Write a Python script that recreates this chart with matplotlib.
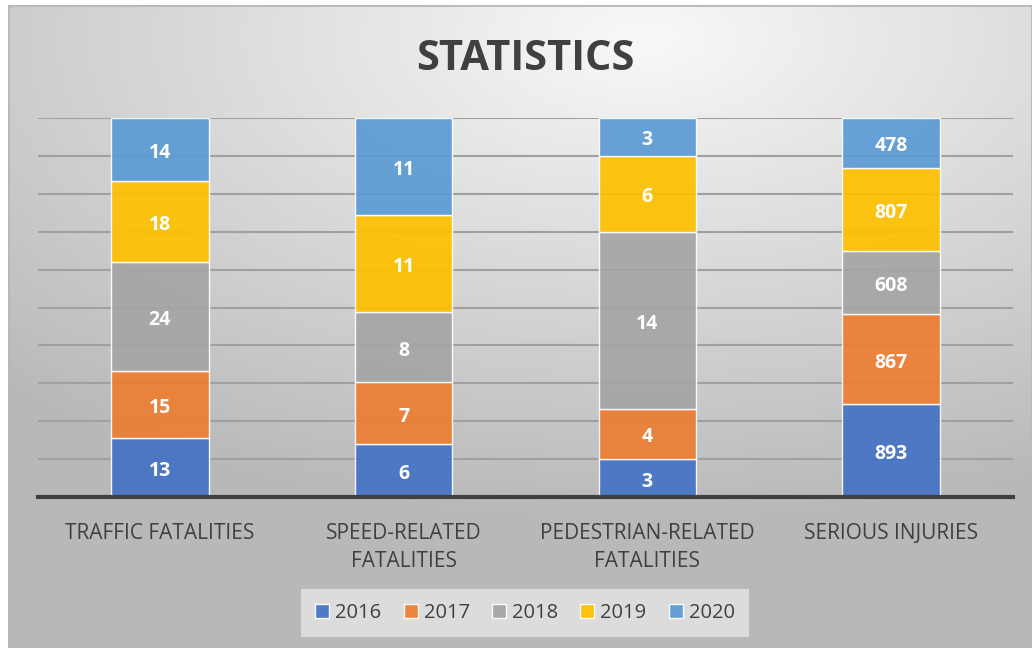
import numpy as np
import matplotlib.pyplot as plt
from matplotlib.patches import Rectangle

categories = ['TRAFFIC FATALITIES', 'SPEED-RELATED\nFATALITIES',
              'PEDESTRIAN-RELATED\nFATALITIES', 'SERIOUS INJURIES']
years = ['2016', '2017', '2018', '2019', '2020']
v2016 = [13, 6, 3, 893]
v2017 = [15, 7, 4, 867]
v2018 = [24, 8, 14, 608]
v2019 = [18, 11, 6, 807]
v2020 = [14, 11, 3, 478]
colors = ['#4472C4', '#ED7D31', '#A5A5A5', '#FFC000', '#5B9BD5']

plt.rcParams['font.family'] = ['Open Sans', 'DejaVu Sans']

fig = plt.figure(figsize=(10.32, 6.48), dpi=100)
fig.patch.set_facecolor('white')

# фон с градиентом
bg = fig.add_axes([8 / 1032, 0, 1 - 8 / 1032, 1 - 5 / 648])
yy, xx = np.mgrid[0:1:300j, 0:1:500j]
d = np.sqrt(((xx - 0.62) * 1.0) ** 2 + ((yy - 0.05) * 1.2) ** 2)
shade = 0.975 - 0.25 * np.clip(d / 0.9, 0, 1)
bg.imshow(np.dstack([shade] * 3), aspect='auto', extent=[0, 1, 0, 1], origin='upper')
bg.add_patch(Rectangle((0, 0), 1, 1, fill=False, edgecolor='#b8b8b8', lw=2, transform=bg.transAxes))
bg.axis('off')

ax = fig.add_axes([38 / 1032, 151 / 648, 975 / 1032, 379 / 648])
ax.set_facecolor('none')

series = [v2016, v2017, v2018, v2019, v2020]
totals = np.sum(series, axis=0)
x = np.arange(len(categories))
bottom = np.zeros(len(categories))
for vals, c, name in zip(series, colors, years):
    frac = np.array(vals) / totals * 100
    bars = ax.bar(x, frac, 0.4, bottom=bottom, color=c, alpha=0.92,
                  edgecolor='white', linewidth=1, label=name, zorder=3)
    for b, v in zip(bars, vals):
        ax.annotate(str(v), (b.get_x() + b.get_width() / 2, b.get_y() + b.get_height() / 2),
                    xytext=(0, -2.5), textcoords='offset points',
                    ha='center', va='center', color='white', fontsize=14, fontweight='bold', zorder=4)
    bottom += frac

ax.set_xlim(-0.5, 3.5)
ax.set_ylim(0, 100)
ax.set_yticks(np.arange(10, 101, 10))
ax.yaxis.grid(True, color='#a0a0a0', lw=1.5, zorder=0)
ax.tick_params(axis='y', length=0, labelleft=False)
ax.tick_params(axis='x', length=0, pad=19)
ax.set_xticks(x)
ax.set_xticklabels(categories, fontsize=15, color='#404040', linespacing=1.4)
for s in ['top', 'right', 'left']:
    ax.spines[s].set_visible(False)
ax.spines['bottom'].set_color('#404040')
ax.spines['bottom'].set_linewidth(3)
ax.spines['bottom'].set_zorder(5)

fig.text(525 / 1032, 1 - 59 / 648, 'STATISTICS', ha='center', va='center',
         fontsize=30, fontweight='bold', color='#404040')

leg = fig.legend(loc='center', bbox_to_anchor=(525 / 1032, 1 - 613 / 648), ncol=5,
                 fontsize=14.5, frameon=True, handlelength=0.7, handleheight=0.7,
                 handletextpad=0.3, columnspacing=1.1, borderpad=0.7)
leg.get_frame().set_facecolor('#e6e6e6')
leg.get_frame().set_edgecolor('none')
leg.get_frame().set_alpha(0.8)
leg.get_frame().set_boxstyle('square', pad=0)
for t in leg.get_texts():
    t.set_color('#404040')

fig.savefig('out.png', dpi=100)
